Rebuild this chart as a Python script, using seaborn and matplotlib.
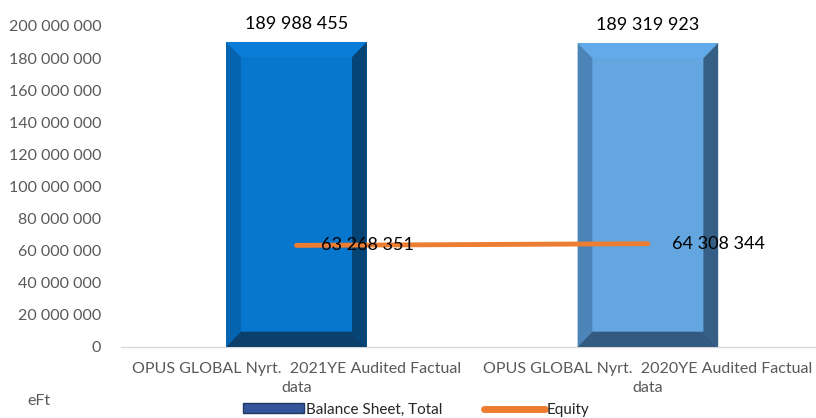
import numpy as np
import pandas as pd
import matplotlib
matplotlib.use("Agg")
import matplotlib.pyplot as plt
import seaborn as sns
from matplotlib.patches import Polygon, Patch
from matplotlib.lines import Line2D

# adatok
categories = ["OPUS GLOBAL Nyrt.  2021YE Audited Factual\ndata",
              "OPUS GLOBAL Nyrt.  2020YE Audited Factual\ndata"]
balance_total = [189988455, 189319923]
equity = [63268351, 64308344]
y_ticks = list(range(0, 200000001, 20000000))

bar_colors = ["#0677CC", "#63A6E0"]
bevel_colors = [
    # top, left, right, bottom
    ("#0A7DD8", "#0563B0", "#064475", "#0B3F6C"),
    ("#62AAEA", "#4D84B8", "#355F84", "#335A80"),
]
line_color = "#ED7D31"
tick_color = "#595959"

sns.set_theme(style="white")
plt.rcParams["font.family"] = ["Lato", "DejaVu Sans"]

df = pd.DataFrame({"cat": categories, "total": balance_total, "equity": equity})

fig = plt.figure(figsize=(8.16, 4.18), dpi=100)
ax = fig.add_axes([0.148, 0.170, 0.857, 0.768])

sns.barplot(data=df, x="cat", y="total", hue="cat", palette=bar_colors,
            width=0.4, legend=False, ax=ax, linewidth=0, saturation=1)

ax.set_ylim(0, 200000000)
ax.set_xlim(-0.5, 1.49)

# kis "bevel" effekt a hasabokra
bx = 0.042
by = 9.5e6
for p, (ct, cl, cr, cb) in zip(ax.patches, bevel_colors):
    x0 = p.get_x()
    x1 = x0 + p.get_width()
    h = p.get_height()
    faces = [
        ([(x0, h), (x1, h), (x1 - bx, h - by), (x0 + bx, h - by)], ct),
        ([(x0, 0), (x0, h), (x0 + bx, h - by), (x0 + bx, by)], cl),
        ([(x1, 0), (x1, h), (x1 - bx, h - by), (x1 - bx, by)], cr),
        ([(x0, 0), (x1, 0), (x1 - bx, by), (x0 + bx, by)], cb),
    ]
    for pts, c in faces:
        ax.add_patch(Polygon(pts, closed=True, facecolor=c, edgecolor="none", zorder=3))
    ax.text(p.get_x() + p.get_width() / 2, h + 6e6, f"{h:,.0f}".replace(",", " "),
            ha="center", va="bottom", fontsize=13, color="black")

xs = np.arange(len(categories))
sns.lineplot(x=xs, y=equity, color=line_color, linewidth=3.5, ax=ax, zorder=4)
for x, v in zip(xs, equity):
    ax.text(x + 0.07, v, f"{v:,.0f}".replace(",", " "), ha="left", va="center",
            fontsize=13, color="black", zorder=5)

ax.set_yticks(y_ticks)
ax.set_yticklabels([f"{t:,}".replace(",", " ") for t in y_ticks])
ax.tick_params(axis="y", colors=tick_color, labelsize=11.5, length=0, pad=14)
ax.tick_params(axis="x", colors=tick_color, labelsize=11.5, length=0, pad=11)
for lbl in ax.get_xticklabels():
    lbl.set_linespacing(1.4)
ax.set_xlabel("")
ax.set_ylabel("")
for s in ["top", "right", "left"]:
    ax.spines[s].set_visible(False)
ax.spines["bottom"].set_color("#D9D9D9")
ax.spines["bottom"].set_linewidth(1)

fig.text(0.033, 0.03, "eFt", fontsize=11.5, color=tick_color)

handles = [Patch(facecolor="#34559A", edgecolor="#203864"),
           Line2D([0], [0], color=line_color, linewidth=5)]
fig.legend(handles, ["Balance Sheet, Total", "Equity"], loc="center",
           bbox_to_anchor=(0.51, 0.02), ncol=2, frameon=False, fontsize=11,
           handlelength=4.0, handleheight=0.6, columnspacing=2.7, handletextpad=0.1,
           borderpad=0.05)

fig.savefig("out.png", dpi=100)
